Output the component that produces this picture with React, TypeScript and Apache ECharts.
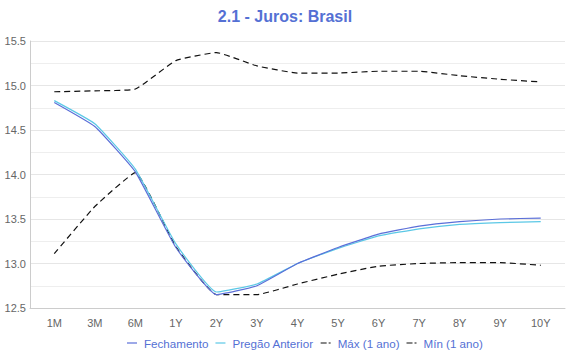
import React, { useEffect, useRef } from "react";
import * as echarts from "echarts";

const categories = ["1M", "3M", "6M", "1Y", "2Y", "3Y", "4Y", "5Y", "6Y", "7Y", "8Y", "9Y", "10Y"];
const fechamento = [14.81, 14.54, 14.03, 13.18, 12.65, 12.75, 13.0, 13.18, 13.33, 13.42, 13.47, 13.5, 13.51];
const pregaoAnterior = [14.83, 14.57, 14.06, 13.22, 12.68, 12.77, 13.0, 13.17, 13.31, 13.39, 13.44, 13.46, 13.47];
const maxAno = [14.93, 14.94, 14.96, 15.28, 15.37, 15.22, 15.14, 15.14, 15.16, 15.16, 15.11, 15.07, 15.04];
const minAno = [13.11, 13.64, 14.02, 13.19, 12.65, 12.65, 12.77, 12.88, 12.97, 13.0, 13.01, 13.01, 12.98];

const BLUE = "#5470d4";
const FONT = "Liberation Sans, Arial, sans-serif";
const SOLID_ICON = "path://M0,0H10V1.2H0Z";
const DASH_ICON = "path://M0,0H6V1.2H0Z M8,0H10V1.2H8Z";

export default function App() {
  const ref = useRef<HTMLDivElement>(null);
  useEffect(() => {
    if (!ref.current) return;
    const chart = echarts.init(ref.current, undefined, { renderer: "svg" });
    const mk = (name: string, data: number[], color: string, dashed: boolean, z: number) => ({
      name,
      type: "line",
      xAxisIndex: 1,
      yAxisIndex: 1,
      data,
      smooth: 0.12,
      symbol: "none",
      showSymbol: false,
      z,
      lineStyle: { color, width: 1.2, type: dashed ? [6, 4] : "solid" },
      itemStyle: { color },
    });
    chart.setOption({
      animation: false,
      textStyle: { fontFamily: FONT },
      title: {
        text: "2.1 - Juros: Brasil",
        left: "center",
        top: 3,
        textStyle: { color: BLUE, fontSize: 16, fontWeight: "bold", fontFamily: FONT },
      },
      legend: {
        bottom: 6,
        left: 122,
        itemWidth: 10,
        itemHeight: 2,
        itemGap: 7,
        textStyle: { color: BLUE, fontSize: 11.6, fontFamily: FONT, padding: [0, 0, 0, 2] },
        data: [
          { name: "Fechamento", icon: SOLID_ICON },
          { name: "Pregão Anterior", icon: SOLID_ICON },
          { name: "Máx (1 ano)", icon: DASH_ICON },
          { name: "Mín (1 ano)", icon: DASH_ICON },
        ],
      },
      grid: [
        { left: 30, right: 5, top: 41, bottom: 52 },
        { left: 34, right: 9, top: 41, bottom: 52 },
      ],
      xAxis: [
        {
          gridIndex: 0,
          type: "category",
          data: categories,
          axisLine: { lineStyle: { color: "#cccccc" } },
          axisTick: { show: false },
          axisLabel: { show: false },
        },
        {
          gridIndex: 1,
          type: "category",
          data: categories,
          boundaryGap: true,
          axisLine: { show: false },
          axisTick: { show: false },
          axisLabel: { color: "#666666", fontSize: 11, margin: 9, fontFamily: FONT },
        },
      ],
      yAxis: [
        {
          gridIndex: 0,
          type: "value",
          min: 12.5,
          max: 15.5,
          interval: 0.5,
          axisLine: { show: true, lineStyle: { color: "#cccccc" } },
          axisTick: { show: false },
          axisLabel: {
            color: "#666666",
            fontSize: 11,
            margin: 4,
            fontFamily: FONT,
            formatter: (v: number) => v.toFixed(1),
          },
          splitLine: { lineStyle: { color: "#e6e6e6" } },
          minorTick: { show: false, splitNumber: 2 },
          minorSplitLine: { show: true, lineStyle: { color: "#eeeeee" } },
        },
        {
          gridIndex: 1,
          type: "value",
          min: 12.5,
          max: 15.5,
          interval: 0.5,
          show: false,
          splitLine: { show: false },
        },
      ],
      series: [
        mk("Máx (1 ano)", maxAno, "#111111", true, 2),
        mk("Mín (1 ano)", minAno, "#111111", true, 2),
        mk("Pregão Anterior", pregaoAnterior, "#5bc8e6", false, 3),
        mk("Fechamento", fechamento, "#5b6fd8", false, 4),
      ],
    });
    return () => chart.dispose();
  }, []);
  return <div ref={ref} style={{ width: 570, height: 360, position: "absolute", left: 0, top: 0 }} />;
}
